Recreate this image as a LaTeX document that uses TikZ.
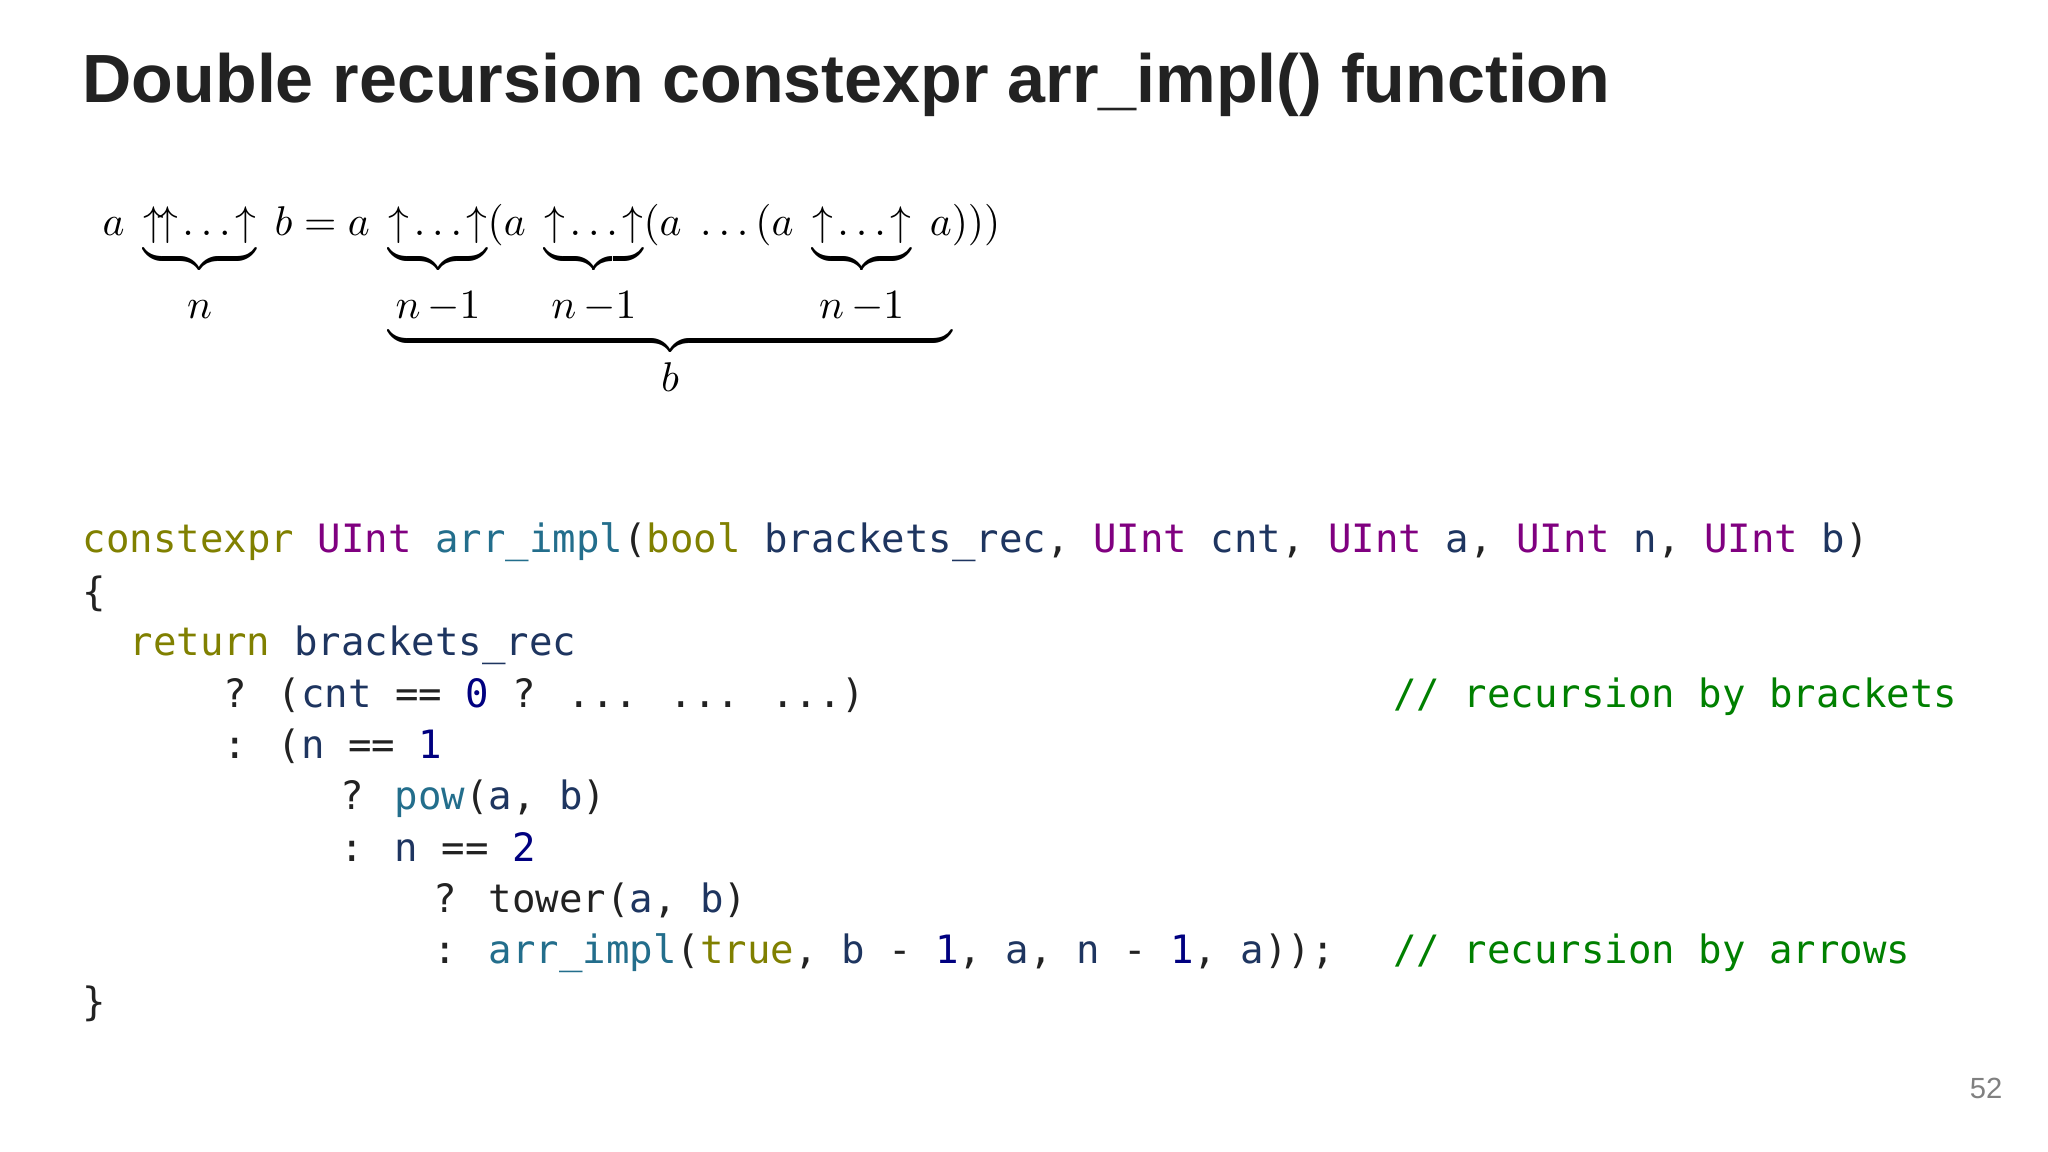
\documentclass[tikz,border=0pt]{standalone}
\usepackage{fontspec}
\usepackage{amsmath}
\setmainfont{Liberation Sans}
\newfontfamily\codefont{DejaVu Sans Mono}
\definecolor{kw}{HTML}{808000}
\definecolor{ty}{HTML}{800080}
\definecolor{fn}{HTML}{236E8C}
\definecolor{id}{HTML}{1E3560}
\definecolor{num}{HTML}{000080}
\definecolor{cm}{HTML}{008000}
\definecolor{txt}{HTML}{222222}
\newcommand{\K}[1]{\textcolor{kw}{#1}}
\newcommand{\T}[1]{\textcolor{ty}{#1}}
\newcommand{\F}[1]{\textcolor{fn}{#1}}
\newcommand{\I}[1]{\textcolor{id}{#1}}
\newcommand{\N}[1]{\textcolor{num}{#1}}
\newcommand{\C}[1]{\textcolor{cm}{#1}}
\newcommand{\ua}{\uparrow\!\ldots\!\uparrow}
\newcommand{\lab}[1]{\rule{0pt}{0.9em}\textstyle #1}
\tikzset{code/.style={anchor=base west,inner sep=0pt,font=\codefont\fontsize{11.1}{13}\selectfont,text=txt}}
\begin{document}
\begin{tikzpicture}[x=0.01cm,y=-0.01cm]
\useasboundingbox[fill=white] (0,0) rectangle (2048,1152);
\node[anchor=base west,inner sep=0pt,font=\bfseries\fontsize{19.4}{22}\selectfont,text=txt] (title) at (82,103) {Double recursion constexpr arr\_impl() function};
\node[anchor=north west,inner sep=0pt] (formula) at (102,204) {\resizebox{8.97cm}{!}{$\displaystyle a\ \underbrace{\uparrow\!\uparrow\!\ldots\!\uparrow}_{\lab{n}}\ b = a\ \underbrace{\underbrace{\ua}_{\lab{n\,{-}1}}(a\ \underbrace{\ua}_{\lab{n\,{-}1}}(a\ \ldots(a\ \underbrace{\ua}_{\lab{n\,{-}1}}\ a}_{\textstyle b})))$}};
\def\cw{23.4}
\node[code] (l1) at (82,553) {\K{constexpr} \T{UInt} \F{arr\_impl}(\K{bool} \I{brackets\_rec}, \T{UInt} \I{cnt}, \T{UInt} \I{a}, \T{UInt} \I{n}, \T{UInt} \I{b})};
\node[code] (l2) at (82,606) {\{};
\node[code] (l3) at (82+2*\cw,656) {\K{return} \I{brackets\_rec}};
\node[code] (l4) at (82+6*\cw,707) {? (\I{cnt} == \N{0} ? ... ... ...)};
\node[code] (c1) at (82+56*\cw,707) {\C{// recursion by brackets}};
\node[code] (l5) at (82+6*\cw,758) {: (\I{n} == \N{1}};
\node[code] (l6) at (82+11*\cw,809) {? \F{pow}(\I{a}, \I{b})};
\node[code] (l7) at (82+11*\cw,861) {: \I{n} == \N{2}};
\node[code] (l8) at (82+15*\cw,912) {? tower(\I{a}, \I{b})};
\node[code] (l9) at (82+15*\cw,963) {: \F{arr\_impl}(\K{true}, \I{b} - \N{1}, \I{a}, \I{n} - \N{1}, \I{a}));};
\node[code] (c2) at (82+56*\cw,963) {\C{// recursion by arrows}};
\node[code] (l10) at (82,1015) {\}};
\node[anchor=base east,inner sep=0pt,font=\fontsize{8.3}{10}\selectfont,text=gray] (pg) at (2003,1098) {52};
\end{tikzpicture}
\end{document}
